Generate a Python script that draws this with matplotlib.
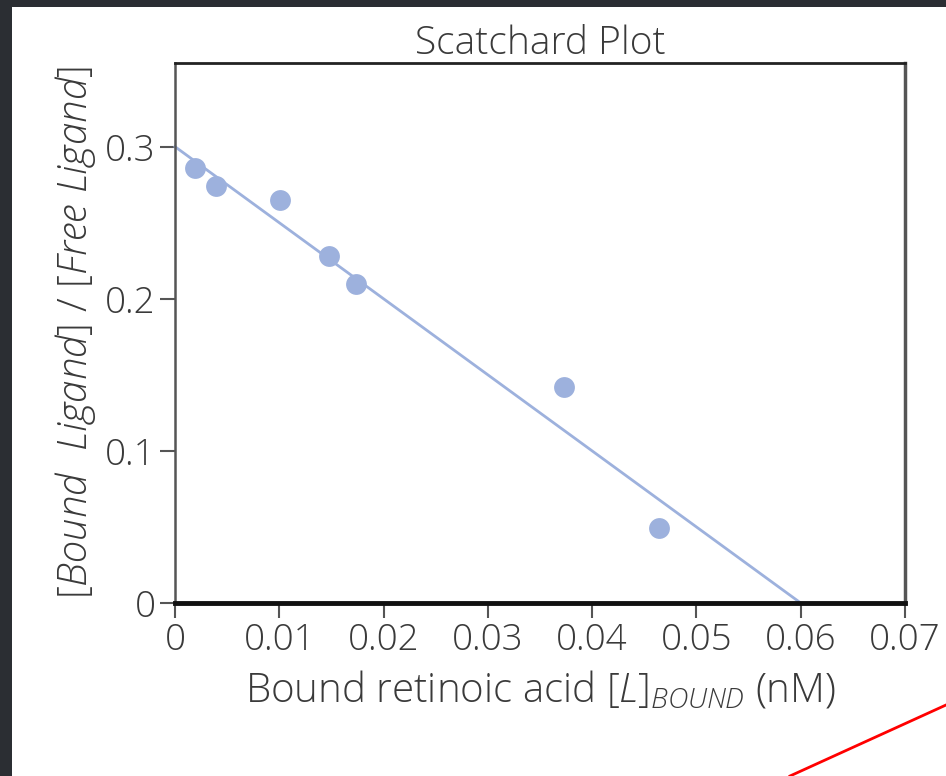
import matplotlib
matplotlib.use("Agg")
import matplotlib.pyplot as plt
from matplotlib.patches import Rectangle
from matplotlib.lines import Line2D

# ========= 数据 =========
bound_x = [0.0019, 0.0039, 0.0101, 0.0148, 0.0174, 0.0373, 0.0464]
ratio_y = [0.286, 0.274, 0.265, 0.228, 0.210, 0.142, 0.049]
fit_x = [0.0, 0.06]
fit_y = [0.30, 0.0]
x_ticks = [0, 0.01, 0.02, 0.03, 0.04, 0.05, 0.06, 0.07]
x_labels = ["0", "0.01", "0.02", "0.03", "0.04", "0.05", "0.06", "0.07"]
y_ticks = [0, 0.1, 0.2, 0.3]
y_labels = ["0", "0.1", "0.2", "0.3"]
# ========================

plt.rcParams["font.family"] = ["Open Sans", "DejaVu Sans"]
plt.rcParams["font.weight"] = "light"
plt.rcParams["axes.titleweight"] = "light"
plt.rcParams["axes.labelweight"] = "light"
plt.rcParams["mathtext.fontset"] = "custom"
plt.rcParams["mathtext.rm"] = "Open Sans:light"
plt.rcParams["mathtext.it"] = "Open Sans:italic:light"

txt = "#3a3a3a"
blue = "#9db1dd"

fig = plt.figure(figsize=(9.46, 7.76), dpi=100, facecolor="#2b2e33")
# 白色面板
fig.patches.append(Rectangle((12 / 946, 0), 1, 1 - 7 / 776, transform=fig.transFigure,
                             facecolor="white", edgecolor="none", zorder=-10))

ax = fig.add_axes([0.185, 0.2229, 0.9567 - 0.185, 0.9188 - 0.2229])
ax.set_facecolor("white")

ax.plot(fit_x, fit_y, color=blue, lw=2, zorder=2, clip_on=False)
ax.plot(bound_x, ratio_y, "o", color=blue, ms=15, mec="none", zorder=3)

ax.set_xlim(0, 0.07)
ax.set_ylim(0, 0.355)
ax.set_xticks(x_ticks)
ax.set_xticklabels(x_labels)
ax.set_yticks(y_ticks)
ax.set_yticklabels(y_labels)
ax.tick_params(axis="both", direction="out", length=11, width=1.5, color="#555555",
               labelsize=26.5, labelcolor=txt, pad=3)

ax.spines["left"].set_linewidth(1.8)
ax.spines["left"].set_color("#555555")
ax.spines["right"].set_linewidth(2.5)
ax.spines["right"].set_color("#555555")
ax.spines["top"].set_linewidth(2)
ax.spines["top"].set_color("#222222")
ax.spines["bottom"].set_linewidth(3.5)
ax.spines["bottom"].set_color("#111111")

ax.set_title("Scatchard Plot", fontsize=28, color=txt, pad=6)
ax.set_xlabel(r"Bound retinoic acid [$L$]$_{BOUND}$ (nM)", fontsize=29, color=txt, labelpad=8)
ax.set_ylabel(r"[$Bound\ \ Ligand$] / [$Free\ Ligand$]", fontsize=29, color=txt, labelpad=5)

# 右下角红线
fig.lines.append(Line2D([790 / 946, 1.0], [0, 1 - 705 / 776], transform=fig.transFigure,
                        color="red", lw=2))

fig.savefig("out.png", dpi=100, facecolor=fig.get_facecolor())
